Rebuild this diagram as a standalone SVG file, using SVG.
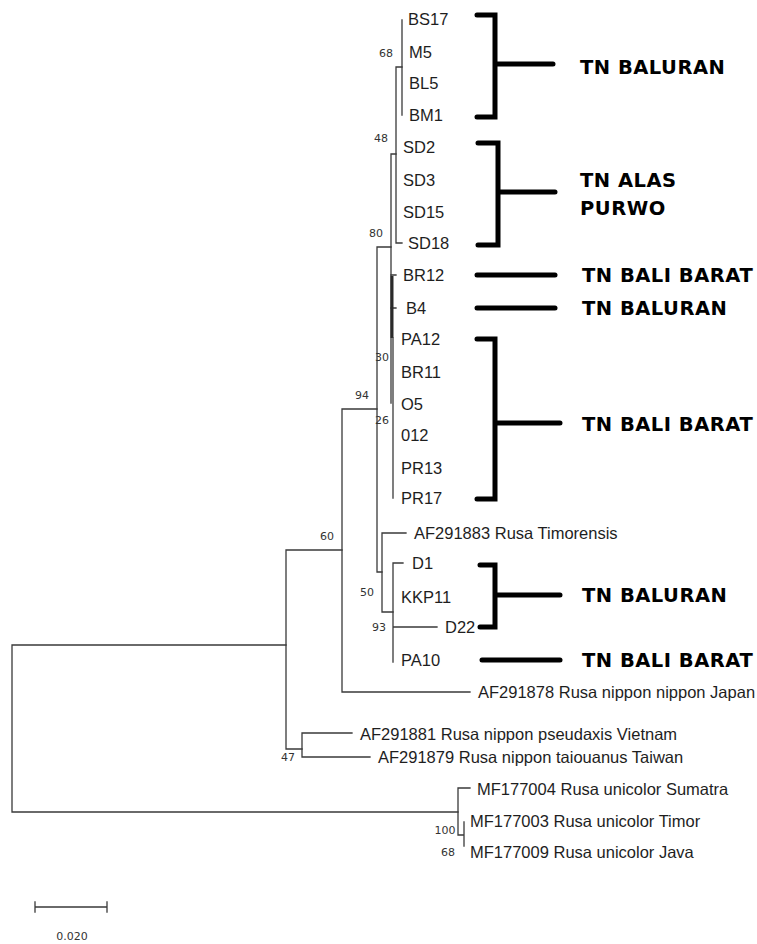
<svg xmlns="http://www.w3.org/2000/svg" width="757" height="944" viewBox="0 0 757 944">
<style>
.br{stroke:#3a3a3a;stroke-width:1.3;fill:none;stroke-linecap:square}
.tip{font-family:"Liberation Sans",Arial,sans-serif;font-size:16.5px;fill:#1e1e1e}
.bs{font-family:"DejaVu Sans","Liberation Sans",sans-serif;font-size:11px;fill:#333;text-anchor:middle}
.bk{stroke:#000;stroke-width:5;fill:none;stroke-linecap:round;stroke-linejoin:miter}
.grp{font-family:"DejaVu Sans",sans-serif;font-weight:bold;font-size:19.5px;fill:#000;letter-spacing:0.5px}
</style>
<rect width="757" height="944" fill="#fff"/>
<g id="connectors">
<path class="br" d="M12,645V812M12,645H286M12,812H458"/>
<path class="br" d="M286,550V749M286,550H342M286,749H302"/>
<path class="br" d="M302,733V757M302,733H352M302,757H370"/>
<path class="br" d="M342,409V692M342,409H377M342,692H470"/>
<path class="br" d="M377,247V572M377,247H391M377,572H382"/>
<path class="br" d="M382,533V612M382,533H406M382,612H393"/>
<path class="br" d="M393,563V662M393,563H403M393,627H437"/>
<path class="br" d="M391,154V403M391,154H396"/>
<path class="br" d="M396,67V243M396,67H402M396,243H402"/>
<path class="br" d="M402,20V115"/>
<path class="br" d="M391,275H396M391,308H396"/>
<path d="M392,276V338" stroke="#2a2a2a" stroke-width="3"/>
<path class="br" d="M393,338V498"/>
<path class="br" d="M458,788V835M458,788H470M458,835H464M464,822V846"/>
<path class="br" d="M35,907H107M35,902V912M107,902V912"/>
</g>
<g id="bootstrap">
<text class="bs" x="386" y="57">68</text>
<text class="bs" x="381" y="142">48</text>
<text class="bs" x="376" y="237">80</text>
<text class="bs" x="362" y="399">94</text>
<text class="bs" x="382" y="361">30</text>
<text class="bs" x="382" y="424">26</text>
<text class="bs" x="327" y="540">60</text>
<text class="bs" x="367" y="596">50</text>
<text class="bs" x="379" y="631">93</text>
<text class="bs" x="288" y="761">47</text>
<text class="bs" x="445" y="834">100</text>
<text class="bs" x="448" y="856">68</text>
</g>
<g id="tips">
<g id="n-BS17"><text class="tip" x="408" y="25">BS17</text></g>
<g id="n-M5"><text class="tip" x="409" y="58">M5</text></g>
<g id="n-BL5"><text class="tip" x="409" y="89">BL5</text></g>
<g id="n-BM1"><text class="tip" x="409" y="121">BM1</text></g>
<g id="n-SD2"><text class="tip" x="403" y="153">SD2</text></g>
<g id="n-SD3"><text class="tip" x="403" y="186">SD3</text></g>
<g id="n-SD15"><text class="tip" x="403" y="218">SD15</text></g>
<g id="n-SD18"><text class="tip" x="408" y="249">SD18</text></g>
<g id="n-BR12"><text class="tip" x="403" y="281">BR12</text></g>
<g id="n-B4"><text class="tip" x="406" y="314">B4</text></g>
<g id="n-PA12"><text class="tip" x="401" y="345">PA12</text></g>
<g id="n-BR11"><text class="tip" x="401" y="378">BR11</text></g>
<g id="n-O5"><text class="tip" x="401" y="410">O5</text></g>
<g id="n-012"><text class="tip" x="401" y="441">012</text></g>
<g id="n-PR13"><text class="tip" x="401" y="474">PR13</text></g>
<g id="n-PR17"><text class="tip" x="401" y="504">PR17</text></g>
<g id="n-AF291883"><text class="tip" x="414" y="539">AF291883 Rusa Timorensis</text></g>
<g id="n-D1"><text class="tip" x="412" y="569">D1</text></g>
<g id="n-KKP11"><text class="tip" x="401" y="603">KKP11</text></g>
<g id="n-D22"><text class="tip" x="445" y="633">D22</text></g>
<g id="n-PA10"><text class="tip" x="401" y="666">PA10</text></g>
<g id="n-AF291878"><text class="tip" x="478" y="698">AF291878 Rusa nippon nippon Japan</text></g>
<g id="n-AF291881"><text class="tip" x="360" y="740">AF291881 Rusa nippon pseudaxis Vietnam</text></g>
<g id="n-AF291879"><text class="tip" x="378" y="763">AF291879 Rusa nippon taiouanus Taiwan</text></g>
<g id="n-MF177004"><text class="tip" x="477" y="795">MF177004 Rusa unicolor Sumatra</text></g>
<g id="n-MF177003"><text class="tip" x="470" y="827">MF177003 Rusa unicolor Timor</text></g>
<g id="n-MF177009"><text class="tip" x="470" y="858">MF177009 Rusa unicolor Java</text></g>
</g>
<g id="scale">
<text x="72" y="940" font-family="DejaVu Sans, sans-serif" font-size="11" fill="#333" text-anchor="middle">0.020</text>
</g>
<g id="group-baluran-1">
<path class="bk" d="M477,15H495V117H477M495,64H553"/>
<text class="grp" x="580" y="74">TN BALURAN</text>
</g>
<g id="group-alaspurwo">
<path class="bk" d="M478,143H498V245H478M498,192H555"/>
<text class="grp" x="580" y="187">TN ALAS</text>
<text class="grp" x="580" y="215">PURWO</text>
</g>
<g id="group-balibarat-1">
<path class="bk" d="M477,275H555"/>
<text class="grp" x="582" y="282">TN BALI BARAT</text>
</g>
<g id="group-baluran-2">
<path class="bk" d="M477,308H555"/>
<text class="grp" x="582" y="315">TN BALURAN</text>
</g>
<g id="group-balibarat-2">
<path class="bk" d="M477,339H495V499H477M495,423H560"/>
<text class="grp" x="582" y="431">TN BALI BARAT</text>
</g>
<g id="group-baluran-3">
<path class="bk" d="M480,565H495V627H480M495,595H560"/>
<text class="grp" x="582" y="602">TN BALURAN</text>
</g>
<g id="group-balibarat-3">
<path class="bk" d="M482,660H560"/>
<text class="grp" x="582" y="667">TN BALI BARAT</text>
</g>
</svg>
